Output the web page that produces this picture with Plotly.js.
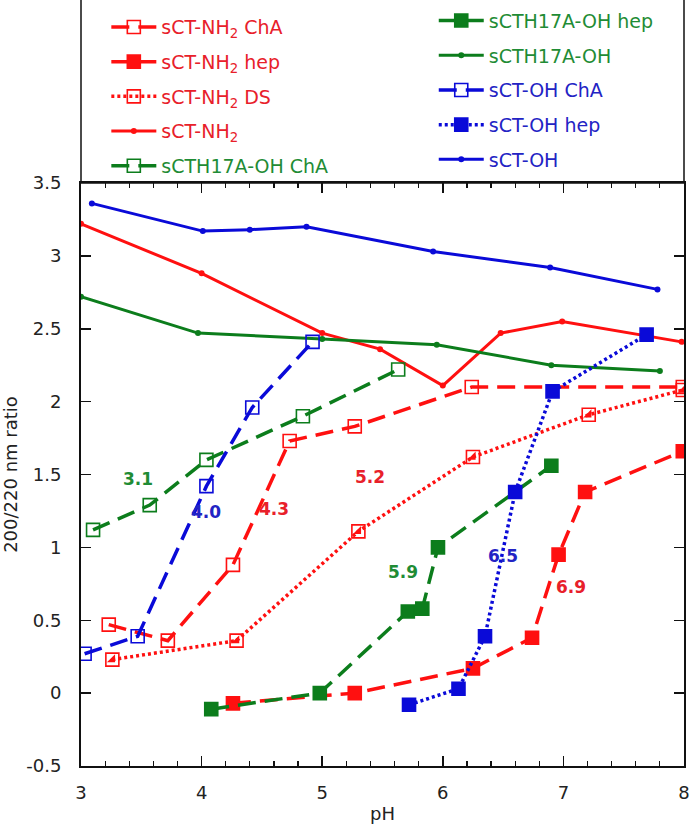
<!DOCTYPE html>
<html>
<head>
<meta charset="utf-8">
<script src="https://cdn.plot.ly/plotly-3.0.1.min.js"></script>
<style>html,body{margin:0;padding:0;background:#fff;}#chart{width:693px;height:829px;}</style>
</head>
<body>
<div id="chart"></div>
<script>
// ---- data ----
const nh2ChA_x = [3.23, 3.72, 4.26, 4.73, 5.27, 6.24, 7.99];
const nh2ChA_y = [0.47, 0.36, 0.88, 1.73, 1.83, 2.10, 2.10];

const nh2Hep_x = [4.26, 5.27, 6.25, 6.74, 6.96, 7.18, 7.99];
const nh2Hep_y = [-0.07, 0.00, 0.17, 0.38, 0.95, 1.38, 1.66];

const nh2DS_x = [3.26, 4.29, 5.30, 6.25, 7.21, 7.99];
const nh2DS_y = [0.23, 0.36, 1.11, 1.62, 1.91, 2.08];

const nh2_x = [3.00, 4.00, 5.00, 5.48, 6.00, 6.48, 6.99, 7.98];
const nh2_y = [3.22, 2.88, 2.47, 2.36, 2.11, 2.47, 2.55, 2.41];

const h17ChA_x = [3.10, 3.57, 4.04, 4.84, 5.63];
const h17ChA_y = [1.12, 1.29, 1.60, 1.90, 2.22];

const h17Hep_x = [4.08, 4.98, 5.71, 5.83, 5.96, 6.90];
const h17Hep_y = [-0.11, 0.00, 0.56, 0.58, 1.00, 1.56];

const h17_x = [3.00, 3.97, 5.00, 5.95, 6.90, 7.80];
const h17_y = [2.72, 2.47, 2.43, 2.39, 2.25, 2.21];

const ohChA_x = [3.03, 3.47, 4.04, 4.42, 4.92];
const ohChA_y = [0.27, 0.39, 1.42, 1.96, 2.41];

const ohHep_x = [5.72, 6.13, 6.35, 6.60, 6.91, 7.69];
const ohHep_y = [-0.08, 0.03, 0.39, 1.38, 2.07, 2.46];

const oh_x = [3.09, 4.01, 4.40, 4.87, 5.92, 6.89, 7.78];
const oh_y = [3.36, 3.17, 3.18, 3.20, 3.03, 2.92, 2.77];

const labelText = ['3.1', '4.0', '4.3', '5.2', '5.9', '6.5', '6.9'];
const labelX = [3.47, 4.04, 4.60, 5.40, 5.67, 6.50, 7.06];
const labelY = [1.47, 1.24, 1.26, 1.48, 0.83, 0.94, 0.73];
const labelSeries = ['green', 'blue', 'red', 'red', 'green', 'blue', 'red'];

const yTickVals = [-0.5, 0, 0.5, 1, 1.5, 2, 2.5, 3, 3.5];
const yTickText = ['-0.5', '0', '0.5', '1', '1.5', '2', '2.5', '3', '3.5'];
const xTickVals = [3, 4, 5, 6, 7, 8];
const xTickText = ['3', '4', '5', '6', '7', '8'];

// ---- styles ----
const RED = '#ff1010', GREEN = '#0c7d1c', BLUE = '#0a0ad8';
const RED_T = '#e8202a', GREEN_T = '#1f8c35', BLUE_T = '#2323c4';
const colorOf = {red: RED_T, green: GREEN_T, blue: BLUE_T};
const DASH = '18px,9px';
const DOT = '3px,3px';
const SQ = 13;
const FONT = 'DejaVu Sans, Arial, sans-serif';

function nm(t, c) { return '<span style="color:' + c + '">' + t + '</span>'; }
let gi = 0;
function tr(x, y, name, color, dash, symbol, legend) {
  gi++;
  return {
    x: x, y: y, type: 'scatter', mode: 'lines+markers', name: name,
    legend: legend, legendgroup: 'g' + gi,
    line: {color: color, width: 3.5, dash: dash},
    marker: {symbol: symbol, size: SQ, color: color, line: {color: color, width: 1.6}}
  };
}
function solid(x, y, name, color, legend) {
  gi++;
  return {
    x: x, y: y, type: 'scatter', mode: 'lines+markers', name: name,
    legend: legend, legendgroup: 'g' + gi,
    line: {color: color, width: 3},
    marker: {symbol: 'circle', size: 6, color: color}
  };
}

const traces = [
  tr(nh2ChA_x, nh2ChA_y, nm('sCT-NH<sub>2</sub> ChA', RED_T), RED, DASH, 'square-open', 'legend'),
  tr(nh2Hep_x, nh2Hep_y, nm('sCT-NH<sub>2</sub> hep', RED_T), RED, DASH, 'square', 'legend'),
  tr(nh2DS_x, nh2DS_y, nm('sCT-NH<sub>2</sub> DS', RED_T), RED, DOT, 'square-open', 'legend'),
  {x: nh2DS_x, y: nh2DS_y, type: 'scatter', mode: 'markers', showlegend: false, legendgroup: 'g' + gi,
   hoverinfo: 'skip', marker: {symbol: 'triangle-se', size: 9, color: RED, line: {width: 0}}},
  solid(nh2_x, nh2_y, nm('sCT-NH<sub>2</sub>', RED_T), RED, 'legend'),
  tr(h17ChA_x, h17ChA_y, nm('sCTH17A-OH ChA', GREEN_T), GREEN, DASH, 'square-open', 'legend'),
  tr(h17Hep_x, h17Hep_y, nm('sCTH17A-OH hep', GREEN_T), GREEN, DASH, 'square', 'legend2'),
  solid(h17_x, h17_y, nm('sCTH17A-OH', GREEN_T), GREEN, 'legend2'),
  tr(ohChA_x, ohChA_y, nm('sCT-OH ChA', BLUE_T), BLUE, DASH, 'square-open', 'legend2'),
  tr(ohHep_x, ohHep_y, nm('sCT-OH hep', BLUE_T), BLUE, DOT, 'square', 'legend2'),
  solid(oh_x, oh_y, nm('sCT-OH', BLUE_T), BLUE, 'legend2')
];

const annotations = labelText.map((t, i) => ({
  x: labelX[i], y: labelY[i], xref: 'x', yref: 'y', text: '<b>' + t + '</b>',
  showarrow: false, font: {family: FONT, size: 17, color: colorOf[labelSeries[i]]}
}));

const legendCommon = {
  bgcolor: 'rgba(0,0,0,0)', borderwidth: 0, traceorder: 'grouped', tracegroupgap: 7,
  itemwidth: 45, font: {family: FONT, size: 19}, yanchor: 'top', xanchor: 'left'
};

const layout = {
  width: 693, height: 829,
  margin: {l: 81, r: 9, t: 183, b: 63, pad: 0, autoexpand: false},
  paper_bgcolor: '#fff', plot_bgcolor: '#fff',
  font: {family: FONT, size: 18, color: '#222'},
  showlegend: true,
  legend: Object.assign({}, legendCommon, {x: 0.042, y: 1.3}),
  legend2: Object.assign({}, legendCommon, {x: 0.585, y: 1.311}),
  xaxis: {
    range: [3, 8], tickvals: xTickVals, ticktext: xTickText,
    ticks: 'inside', ticklen: 10, tickwidth: 1.5, tickcolor: '#111',
    minor: {dtick: 0.2, ticks: 'inside', ticklen: 5, tickwidth: 1.2, tickcolor: '#111'},
    showline: true, linecolor: '#111', linewidth: 2, mirror: 'allticks',
    showgrid: false, zeroline: false, ticklabelstandoff: 9,
    tickfont: {family: FONT, size: 18, color: '#222'},
    title: {text: 'pH', font: {family: FONT, size: 18, color: '#222'}, standoff: 6}
  },
  yaxis: {
    range: [-0.5, 3.5], tickvals: yTickVals, ticktext: yTickText,
    ticks: 'inside', ticklen: 10, tickwidth: 1.5, tickcolor: '#111',
    showline: true, linecolor: '#111', linewidth: 2, mirror: 'allticks',
    showgrid: false, zeroline: false, ticklabelstandoff: 14,
    tickfont: {family: FONT, size: 18, color: '#222'},
    title: {text: '200/220 nm ratio', font: {family: FONT, size: 18, color: '#222'}, standoff: 6}
  },
  shapes: [{
    type: 'rect', xref: 'paper', yref: 'paper', x0: 0, x1: 1, y0: 1, y1: 1.33,
    line: {color: '#111', width: 1.5}, fillcolor: 'rgba(0,0,0,0)', layer: 'below'
  }],
  annotations: annotations
};

Plotly.newPlot('chart', traces, layout, {displayModeBar: false, staticPlot: true});
</script>
</body>
</html>
